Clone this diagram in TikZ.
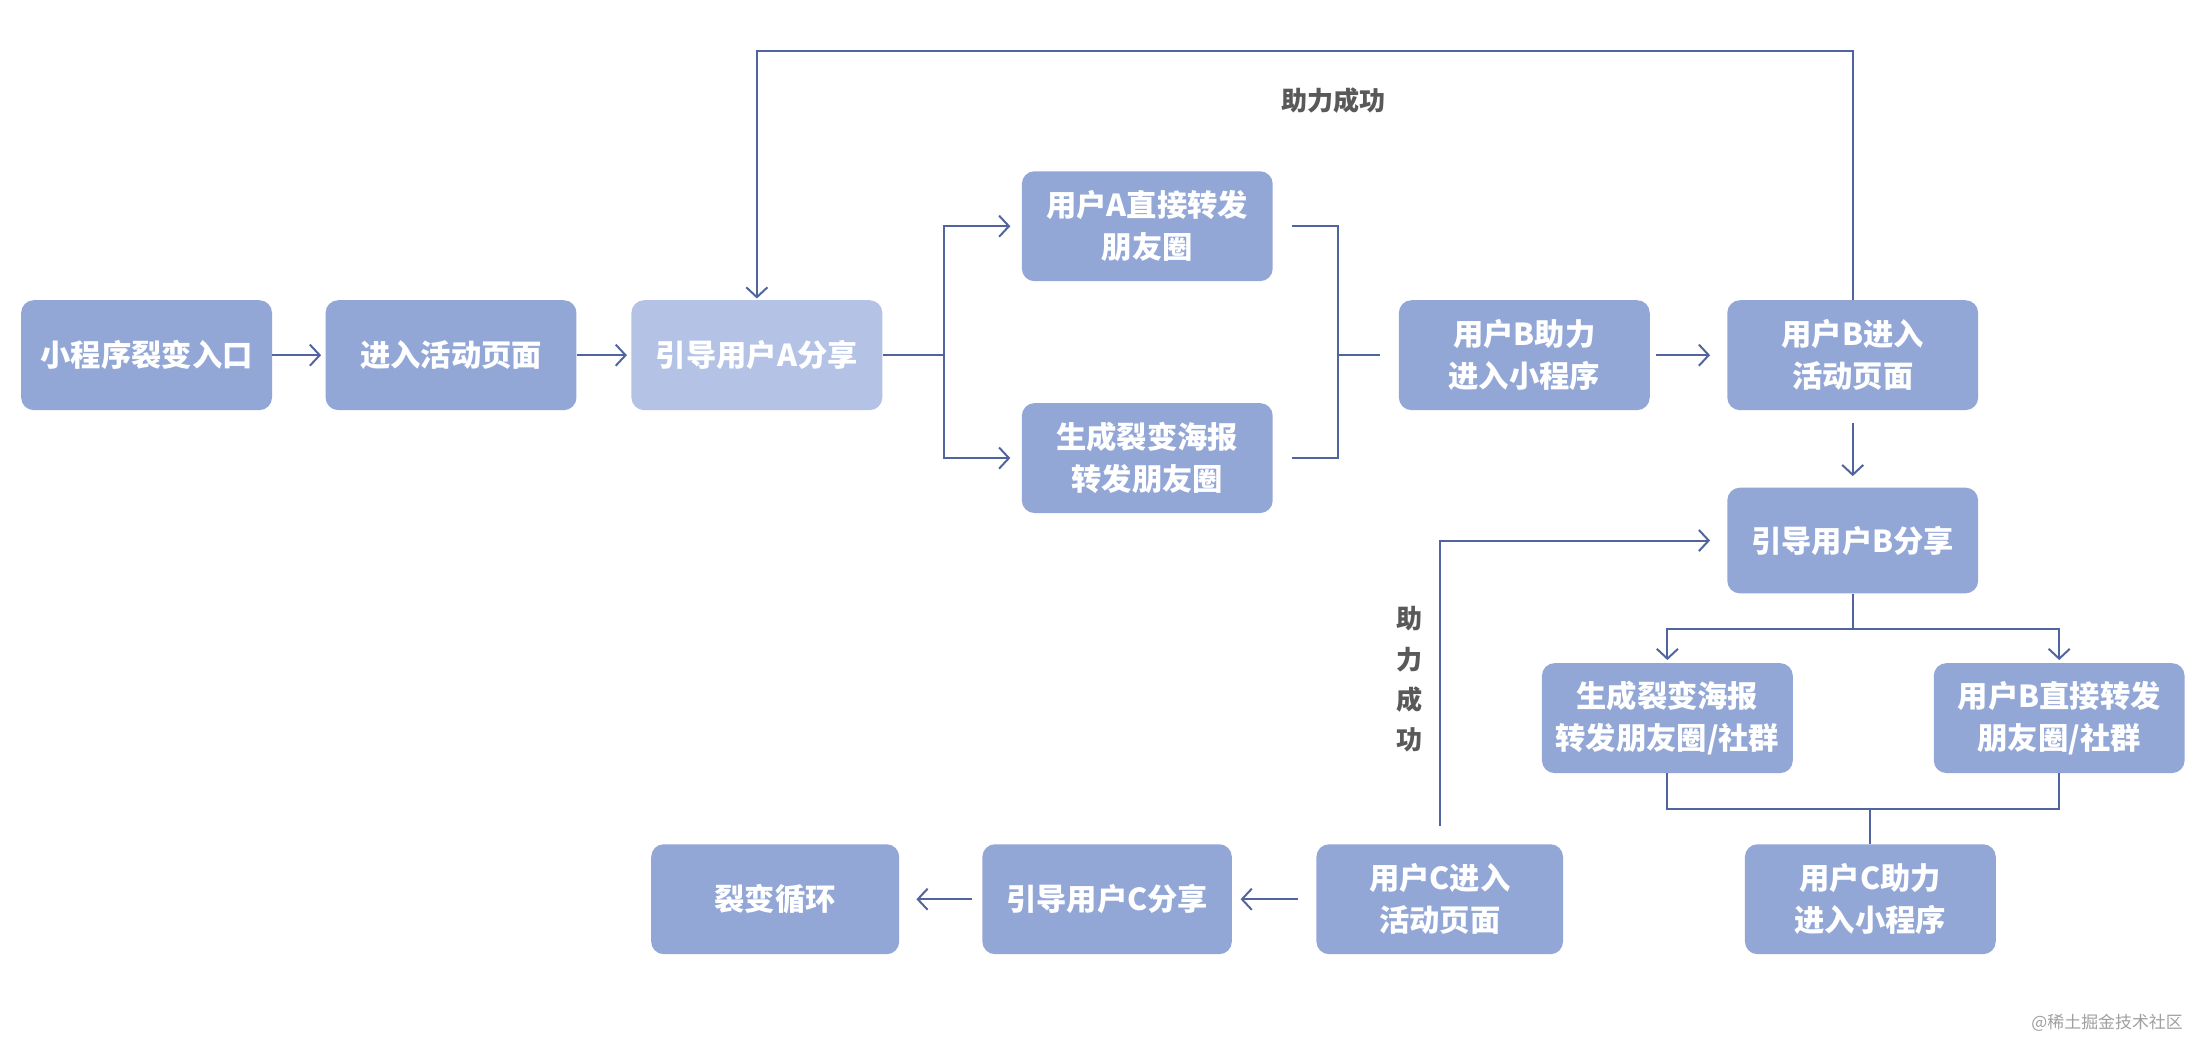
\documentclass[tikz,border=0pt]{standalone}
\usepackage{fontspec}
\setmainfont{Noto Sans CJK SC}
\usetikzlibrary{arrows.meta}
\definecolor{boxc}{HTML}{93A7D7}
\definecolor{boxl}{HTML}{B4C3E5}
\definecolor{linec}{HTML}{5064A0}
\definecolor{labc}{HTML}{595959}
\definecolor{wmc}{HTML}{A0A0A0}
\begin{document}
\begin{tikzpicture}[x=1pt,y=-1pt,
 box/.style={draw=none, fill=boxc, rounded corners=9pt, minimum width=178pt, minimum height=78pt,
   text=white, font=\fontsize{21.5}{30}\selectfont\bfseries, align=center, inner sep=0pt},
 conn/.style={draw=linec, line width=1.4pt},
 arr/.style={conn, -{Straight Barb[length=7pt,width=15pt,line width=1.4pt]}},
 lab/.style={text=labc, font=\fontsize{18.5}{28.5}\selectfont\bfseries, align=center, inner sep=0pt}
]
\fill[white] (0,0) rectangle (1568,739.3);
\useasboundingbox (0,0) rectangle (1568,739.3);

% nodes
\node[box] (n1) at (104,252) {小程序裂变入口};
\node[box] (n2) at (320,252) {进入活动页面};
\node[box, fill=boxl] (n3) at (537,252) {引导用户A分享};
\node[box] (n4) at (814,160.5) {用户A直接转发\\朋友圈};
\node[box] (n5) at (814,325) {生成裂变海报\\转发朋友圈};
\node[box] (n6) at (1081.5,252) {用户B助力\\进入小程序};
\node[box] (n7) at (1314.5,252) {用户B进入\\活动页面};
\node[box, minimum height=75pt] (n8) at (1314.5,383.5) {引导用户B分享};
\node[box] (n9) at (1183,509.5) {生成裂变海报\\转发朋友圈/社群};
\node[box] (n10) at (1461,509.5) {用户B直接转发\\朋友圈/社群};
\node[box] (n11) at (1327,638) {用户C助力\\进入小程序};
\node[box, minimum width=175pt] (n12) at (1021.5,638) {用户C进入\\活动页面};
\node[box, minimum width=177pt] (n13) at (785.5,638) {引导用户C分享};
\node[box, minimum width=176pt] (n14) at (550,638) {裂变循环};

% labels
\node[lab] (l1) at (946,71) {助力成功};
\node[lab] (l2) at (1000,482) {助\\力\\成\\功};
\node[text=wmc, font=\fontsize{12}{14}\selectfont, inner sep=0pt] (wm) at (1495,726) {@稀土掘金技术社区};

% coordinates
\coordinate (sa) at (670,252);
\coordinate (a4) at (917,160.5);
\coordinate (a5) at (917,325);
\coordinate (mb) at (949,252);
\coordinate (t1) at (1314.5,36);
\coordinate (sb) at (1314.5,446);
\coordinate (mc) at (1327,574);
\coordinate (c1) at (1021.5,383.5);

% connectors
\draw[arr, shorten >=3pt] (n1) -- (n2);
\draw[arr, shorten >=3pt] (n2) -- (n3);
\draw[conn] (n3.east) -- (sa);
\draw[arr, shorten >=8pt] (sa) |- (n4.west);
\draw[arr, shorten >=8pt] (sa) |- (n5.west);
\draw[conn] (a4) -| (mb);
\draw[conn] (a5) -| (mb);
\draw[conn, shorten >=13pt] (mb) -- (n6.west);
\draw[arr, shorten <=4pt, shorten >=12pt] (n6) -- (n7);
\draw[arr, shorten >=1pt] (n7.north) -- (t1) -| (n3.north);
\draw[arr, shorten <=9pt, shorten >=8pt] (n7) -- (n8);
\draw[conn] (n8.south) -- (sb);
\draw[arr, shorten >=2pt] (sb) -| (n9.north);
\draw[arr, shorten >=2pt] (sb) -| (n10.north);
\draw[conn] (n9.south) |- (mc);
\draw[conn] (n10.south) |- (mc);
\draw[conn] (mc) -- (n11.north);
\draw[arr, shorten <=13pt, shorten >=12pt] (n12.north) -- (c1) -- (n8.west);
\draw[arr, shorten <=13pt, shorten >=6pt] (n12) -- (n13);
\draw[arr, shorten <=7pt, shorten >=12pt] (n13) -- (n14);
\end{tikzpicture}
\end{document}
